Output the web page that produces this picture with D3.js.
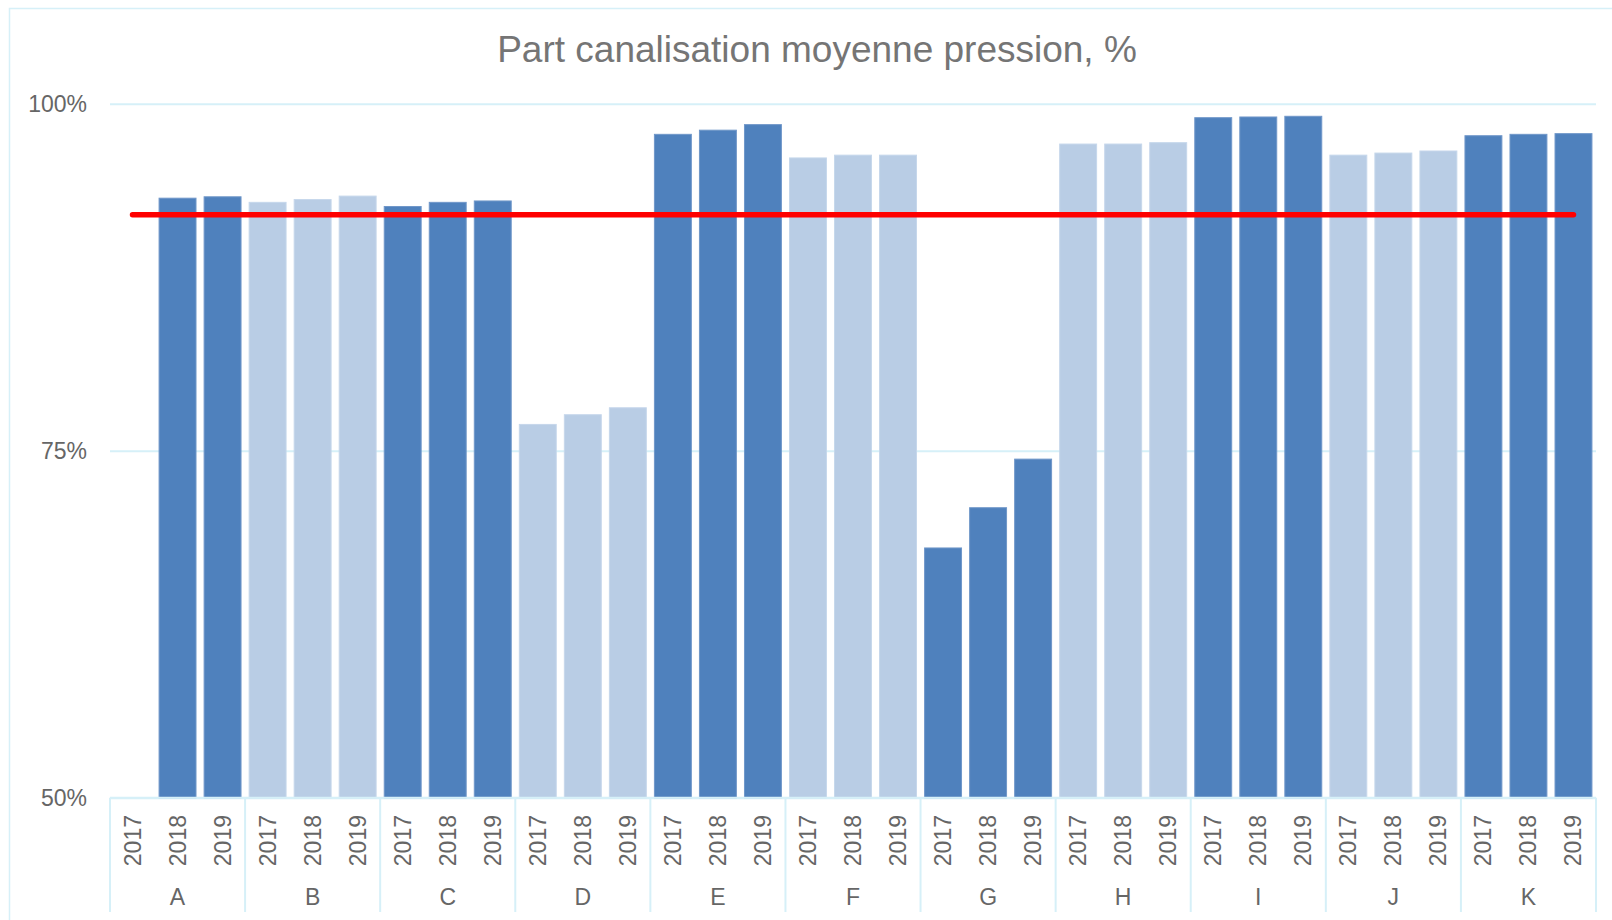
<!DOCTYPE html>
<html>
<head>
<meta charset="utf-8">
<script src="https://cdn.jsdelivr.net/npm/d3@7"></script>
<style>
  body { margin: 0; background: #fff; }
  svg { display: block; font-family: "Liberation Sans", Arial, sans-serif; }
</style>
</head>
<body>
<svg id="chart" width="1612" height="920"></svg>
<script>
const groups = ['A', 'B', 'C', 'D', 'E', 'F', 'G', 'H', 'I', 'J', 'K'];
const years = ['2017', '2018', '2019'];
const values2017 = [null, 92.9, 92.6, 76.9, 97.8, 96.1, 68.0, 97.1, 99.0, 96.3, 97.7];
const values2018 = [93.2, 93.1, 92.9, 77.6, 98.1, 96.3, 70.9, 97.1, 99.05, 96.45, 97.8];
const values2019 = [93.3, 93.35, 93.0, 78.1, 98.5, 96.3, 74.4, 97.2, 99.1, 96.6, 97.85];
const targetValue = 92;
const yTicks = [50, 75, 100];

const width = 1612;
const height = 920;
const plotLeft = 110, plotRight = 1596, plotTop = 103.8, plotBottom = 797.8;
const dark = '#4F81BD', light = '#B9CDE5';
const gridColor = '#D6F0F8';
const textColor = '#666666';

// flatten into one row per bar
const rows = [];
groups.forEach((g, gi) => {
  [values2017, values2018, values2019].forEach((vals, yi) => {
    rows.push({ key: g + '|' + years[yi], group: g, gi: gi, year: years[yi], value: vals[gi] });
  });
});

const svg = d3.select('#chart');

const x = d3.scaleBand()
  .domain(rows.map(d => d.key))
  .range([plotLeft, plotRight])
  .paddingInner(0.18)
  .paddingOuter(0.09);

const xGroup = d3.scaleBand()
  .domain(groups)
  .range([plotLeft, plotRight]);

const y = d3.scaleLinear()
  .domain([50, 100])
  .range([plotBottom, plotTop]);

// outer border
svg.append('rect')
  .attr('x', 9.5).attr('y', 8.5)
  .attr('width', width + 10).attr('height', height + 10)
  .attr('fill', 'none')
  .attr('stroke', gridColor)
  .attr('stroke-width', 1.5);

// title
svg.append('text')
  .attr('x', 817).attr('y', 61.5)
  .attr('text-anchor', 'middle')
  .attr('fill', '#757575')
  .style('font-size', '37px')
  .text('Part canalisation moyenne pression, %');

// gridlines and y labels
const yAxis = d3.axisLeft(y)
  .tickValues(yTicks)
  .tickSize(-(plotRight - plotLeft))
  .tickFormat(d => d + '%');

svg.append('g')
  .attr('transform', 'translate(' + plotLeft + ',0)')
  .call(yAxis)
  .call(g => g.select('.domain').remove())
  .call(g => g.selectAll('line').attr('stroke', gridColor).attr('stroke-width', 2))
  .call(g => g.selectAll('text')
    .attr('x', -23)
    .attr('fill', textColor)
    .style('font-size', '23px')
    .style('font-family', '"Liberation Sans", Arial, sans-serif'));

// bars
svg.append('g')
  .selectAll('rect')
  .data(rows.filter(d => d.value != null))
  .enter().append('rect')
  .attr('x', d => x(d.key))
  .attr('y', d => y(d.value))
  .attr('width', x.bandwidth())
  .attr('height', d => y(50) - y(d.value))
  .attr('fill', d => d.gi % 2 === 0 ? dark : light)
  .attr('stroke', d => d.gi % 2 === 0 ? '#7097C9' : '#C6D7EB')
  .attr('stroke-width', 1);

// category axis line
svg.append('line')
  .attr('x1', plotLeft).attr('x2', plotRight)
  .attr('y1', plotBottom).attr('y2', plotBottom)
  .attr('stroke', gridColor).attr('stroke-width', 2);

// group separators
const seps = groups.map(g => xGroup(g)).concat([plotRight]);
svg.append('g')
  .selectAll('line')
  .data(seps)
  .enter().append('line')
  .attr('x1', d => d).attr('x2', d => d)
  .attr('y1', plotBottom).attr('y2', 912)
  .attr('stroke', gridColor).attr('stroke-width', 2);

// year labels
svg.append('g')
  .selectAll('text')
  .data(rows)
  .enter().append('text')
  .attr('transform', d => 'translate(' + (x(d.key) + x.bandwidth() / 2 + 8) + ',815) rotate(-90)')
  .attr('text-anchor', 'end')
  .attr('fill', textColor)
  .style('font-size', '23px')
  .text(d => d.year);

// group labels
svg.append('g')
  .selectAll('text')
  .data(groups)
  .enter().append('text')
  .attr('x', d => xGroup(d) + xGroup.bandwidth() / 2)
  .attr('y', 905)
  .attr('text-anchor', 'middle')
  .attr('fill', textColor)
  .style('font-size', '23px')
  .text(d => d);

// target line
const first = rows[0].key, last = rows[rows.length - 1].key;
svg.append('path')
  .datum([first, last])
  .attr('d', d3.line()
    .x(k => x(k) + x.bandwidth() / 2)
    .y(() => y(targetValue)))
  .attr('fill', 'none')
  .attr('stroke', '#FF0000')
  .attr('stroke-width', 5.5)
  .attr('stroke-linecap', 'round');
</script>
</body>
</html>
